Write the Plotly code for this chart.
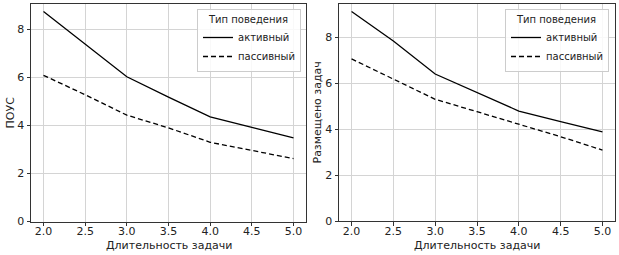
import plotly.graph_objects as go

x_vals = [2.0, 2.5, 3.0, 3.5, 4.0, 4.5, 5.0]
pous_active = [8.75, 7.38, 6.03, 5.18, 4.36, 3.92, 3.48]
pous_passive = [6.09, 5.28, 4.43, 3.90, 3.30, 2.95, 2.62]
placed_active = [9.12, 7.84, 6.40, 5.60, 4.79, 4.33, 3.88]
placed_passive = [7.06, 6.17, 5.30, 4.76, 4.22, 3.67, 3.09]

x_ticks = [2.0, 2.5, 3.0, 3.5, 4.0, 4.5, 5.0]
y_ticks = [0, 2, 4, 6, 8]
legend_title = "Тип поведения"
name_active = "активный"
name_passive = "пассивный"
x_title = "Длительность задачи"
y_title_left = "ПОУС"
y_title_right = "Размещено задач"

W, H = 619, 255
FONT = "DejaVu Sans"

def px(v):
    return v / W

def py(v):
    return 1 - v / H

fig = go.Figure()
line_w = 1.3
fig.add_trace(go.Scatter(x=x_vals, y=pous_active, mode="lines", name=name_active,
                         line=dict(color="black", width=line_w), xaxis="x", yaxis="y", legend="legend"))
fig.add_trace(go.Scatter(x=x_vals, y=pous_passive, mode="lines", name=name_passive,
                         line=dict(color="black", width=line_w, dash="5px,3px"), xaxis="x", yaxis="y", legend="legend"))
fig.add_trace(go.Scatter(x=x_vals, y=placed_active, mode="lines", name=name_active,
                         line=dict(color="black", width=line_w), xaxis="x2", yaxis="y2", legend="legend2"))
fig.add_trace(go.Scatter(x=x_vals, y=placed_passive, mode="lines", name=name_passive,
                         line=dict(color="black", width=line_w, dash="5px,3px"), xaxis="x2", yaxis="y2", legend="legend2"))

axis_common = dict(showgrid=True, gridcolor="#d4d4d4", gridwidth=1, showline=True, linecolor="#333333",
                   linewidth=1, mirror=True, ticks="outside", ticklen=3.5, tickcolor="#333333",
                   zeroline=False, automargin=False,
                   tickfont=dict(family=FONT, size=11, color="#222222"))

xcommon = dict(range=[1.85, 5.15], tickvals=x_ticks, ticktext=[f"{v:.1f}" for v in x_ticks],
               ticklabelstandoff=-4, **axis_common)

fig.update_layout(
    width=W, height=H,
    margin=dict(l=0, r=0, t=0, b=0, autoexpand=False),
    paper_bgcolor="white", plot_bgcolor="white",
    font=dict(family=FONT, size=11, color="#222222"),
    xaxis=dict(domain=[px(31), px(306)], anchor="y", **xcommon),
    yaxis=dict(domain=[py(221.5), py(4)], range=[0, 9.06], tickvals=y_ticks, anchor="x", **axis_common),
    xaxis2=dict(domain=[px(339), px(615)], anchor="y2", **xcommon),
    yaxis2=dict(domain=[py(221), py(4)], range=[0, 9.45], tickvals=y_ticks, anchor="x2", **axis_common),
    legend=dict(x=px(301), y=py(9), xanchor="right", yanchor="top",
                bgcolor="rgba(255,255,255,0.85)", bordercolor="#cccccc", borderwidth=1,
                font=dict(family=FONT, size=10), tracegroupgap=0, itemwidth=30,
                title=dict(text=legend_title, side="top center", font=dict(family=FONT, size=10))),
    legend2=dict(x=px(609), y=py(9), xanchor="right", yanchor="top",
                 bgcolor="rgba(255,255,255,0.85)", bordercolor="#cccccc", borderwidth=1,
                 font=dict(family=FONT, size=10), tracegroupgap=0, itemwidth=30,
                 title=dict(text=legend_title, side="top center", font=dict(family=FONT, size=10))),
    showlegend=True,
)

annotations = [
    dict(text=x_title, x=px(168.5), y=py(245), xref="paper", yref="paper", showarrow=False,
         font=dict(family=FONT, size=11), xanchor="center", yanchor="middle"),
    dict(text=x_title, x=px(477), y=py(245), xref="paper", yref="paper", showarrow=False,
         font=dict(family=FONT, size=11), xanchor="center", yanchor="middle"),
    dict(text=y_title_left, x=px(10), y=py(112.5), xref="paper", yref="paper", showarrow=False,
         textangle=-90, font=dict(family=FONT, size=11), xanchor="center", yanchor="middle"),
    dict(text=y_title_right, x=px(317), y=py(112.5), xref="paper", yref="paper", showarrow=False,
         textangle=-90, font=dict(family=FONT, size=11), xanchor="center", yanchor="middle"),
]
fig.update_layout(annotations=annotations)

fig.write_html("out.html", config={"displayModeBar": False},
               post_script="document.body.style.margin='0';document.body.style.padding='0';")
